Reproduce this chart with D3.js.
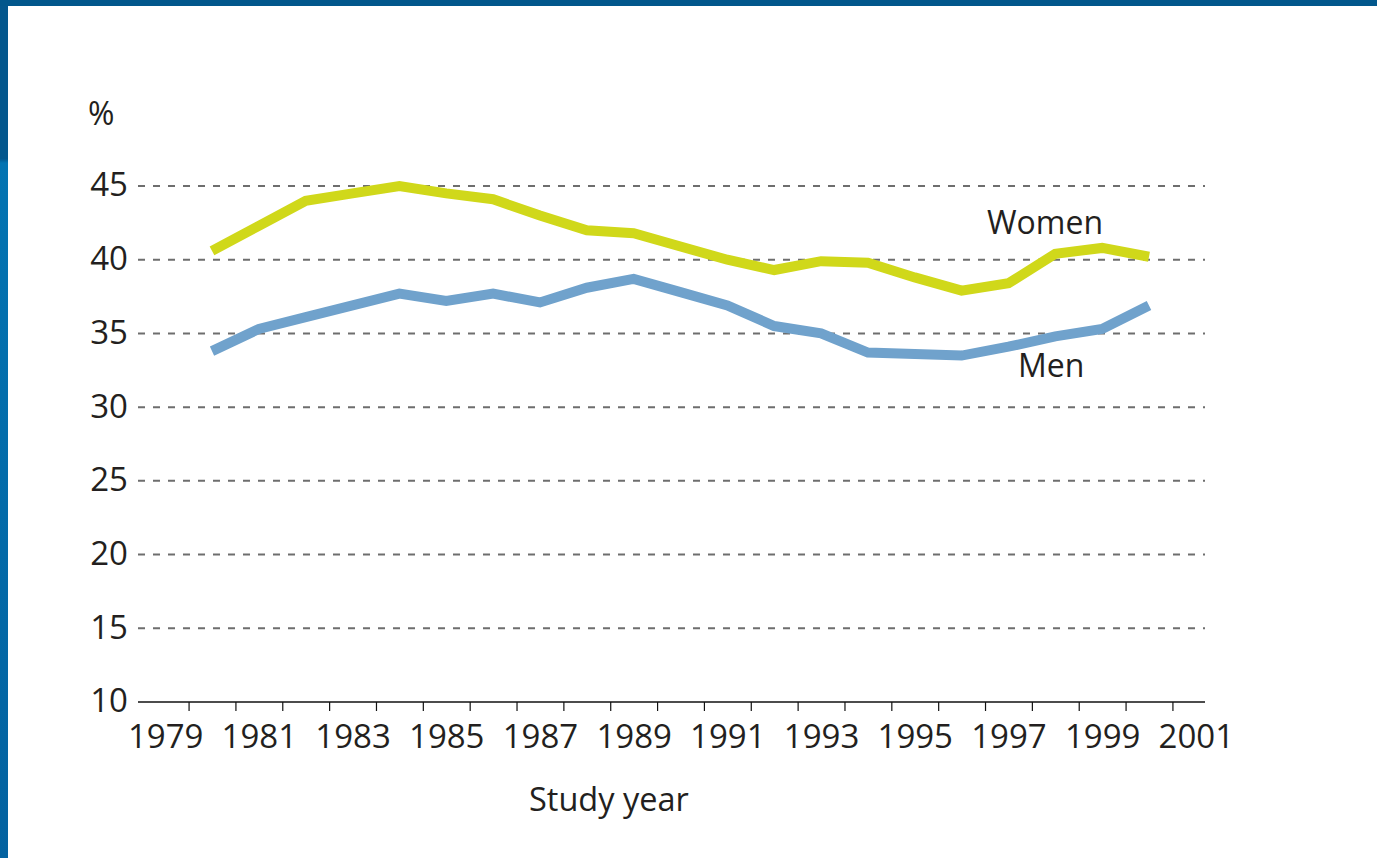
<!DOCTYPE html>
<html>
<head>
<meta charset="utf-8">
<script src="https://cdn.jsdelivr.net/npm/d3@7"></script>
<style>
  body { margin: 0; background: #fff; }
  svg { display: block; font-family: "Open Sans", sans-serif; }
</style>
</head>
<body>
<div id="chart"></div>
<script>
// study years and share (%) per year
const years = d3.range(1980, 2001);
const women = [40.6, 42.3, 44.0, 44.5, 45.0, 44.5, 44.1, 43.0, 42.0, 41.8, 40.9,
               40.0, 39.3, 39.9, 39.8, 38.8, 37.9, 38.4, 40.4, 40.8, 40.2];
const men = [33.8, 35.3, 36.1, 36.9, 37.7, 37.2, 37.7, 37.1, 38.1, 38.7, 37.8,
             36.9, 35.5, 35.0, 33.7, 33.6, 33.5, 34.1, 34.8, 35.3, 36.9];
const yTicks = [10, 15, 20, 25, 30, 35, 40, 45];
const xLabels = [1979, 1981, 1983, 1985, 1987, 1989, 1991, 1993, 1995, 1997, 1999, 2001];

const width = 1377, height = 858;
const textColor = "#231f20";

const svg = d3.select("#chart").append("svg")
    .attr("width", width)
    .attr("height", height);

// blue frame (top + left)
const grad = svg.append("defs").append("linearGradient")
    .attr("id", "frame").attr("x1", 0).attr("y1", 0).attr("x2", 0).attr("y2", 1);
grad.append("stop").attr("offset", "0").attr("stop-color", "#04578d");
grad.append("stop").attr("offset", "0.185").attr("stop-color", "#04578d");
grad.append("stop").attr("offset", "0.19").attr("stop-color", "#0474b2");
grad.append("stop").attr("offset", "1").attr("stop-color", "#0462a0");
svg.append("rect").attr("x", 0).attr("y", 0).attr("width", 8).attr("height", height)
    .attr("fill", "url(#frame)");
svg.append("rect").attr("x", 0).attr("y", 0).attr("width", width).attr("height", 6)
    .attr("fill", "#02578c");

const x = d3.scaleLinear().domain([1980, 2000]).range([212, 1149]);
const y = d3.scaleLinear().domain([10, 45]).range([702, 186]);
const left = 138, right = 1205;

// dashed gridlines
svg.append("g")
  .selectAll("line")
  .data(yTicks.filter(d => d > 10))
  .join("line")
    .attr("x1", left).attr("x2", right)
    .attr("y1", d => y(d)).attr("y2", d => y(d))
    .attr("stroke", "#6e6e6e")
    .attr("stroke-width", 2)
    .attr("stroke-dasharray", "7,8");

// y labels
const yAxis = svg.append("g")
    .attr("transform", `translate(${left - 4},0)`)
    .call(d3.axisLeft(y).tickValues(yTicks).tickSize(0).tickPadding(6));
yAxis.select(".domain").remove();
yAxis.selectAll("text")
    .attr("font-family", "Open Sans").attr("font-size", 33)
    .attr("fill", textColor).attr("dy", "0.3em");

// x axis line with ticks between years
const tickYears = d3.range(1979.5, 2001, 1);
const xAxis = svg.append("g")
    .attr("transform", `translate(0,${y(10)})`)
    .call(d3.axisBottom(x).tickValues(tickYears).tickSize(9).tickSizeOuter(0).tickFormat(""));
xAxis.select(".domain")
    .attr("d", `M${left},0H${right}`)
    .attr("stroke", "#111").attr("stroke-width", 1.6);
xAxis.selectAll(".tick line").attr("stroke", "#111").attr("stroke-width", 1.2);

// x labels
const xLab = svg.append("g")
    .attr("transform", `translate(0,${y(10)})`)
    .call(d3.axisBottom(x).tickValues(xLabels).tickSize(0).tickPadding(23).tickFormat(d3.format("d")));
xLab.select(".domain").remove();
xLab.selectAll("text")
    .attr("font-family", "Open Sans").attr("font-size", 33)
    .attr("fill", textColor);

// lines
const line = d3.line()
    .x((d, i) => x(years[i]))
    .y(d => y(d));

svg.append("path")
    .datum(men)
    .attr("fill", "none")
    .attr("stroke", "#70a2cc")
    .attr("stroke-width", 10)
    .attr("d", line);

svg.append("path")
    .datum(women)
    .attr("fill", "none")
    .attr("stroke", "#d0d81a")
    .attr("stroke-width", 10)
    .attr("d", line);

// texts
svg.append("text").attr("x", 88).attr("y", 125)
    .attr("font-size", 32).attr("fill", textColor).text("%");
svg.append("text").attr("x", 987).attr("y", 234)
    .attr("font-size", 32).attr("fill", textColor).text("Women");
svg.append("text").attr("x", 1018).attr("y", 377)
    .attr("font-size", 32).attr("fill", textColor).text("Men");
svg.append("text").attr("x", 529).attr("y", 811)
    .attr("font-size", 32.5).attr("fill", textColor).text("Study year");
</script>
</body>
</html>
